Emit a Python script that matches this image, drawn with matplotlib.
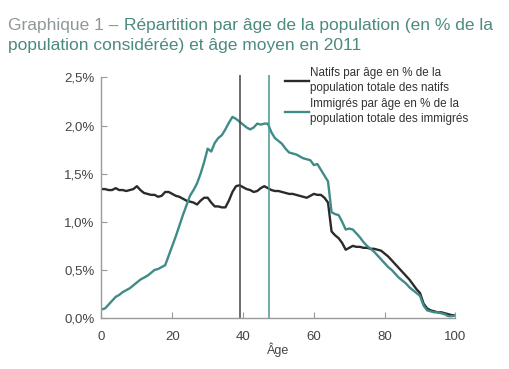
import numpy as np
import matplotlib.pyplot as plt
from matplotlib.ticker import FuncFormatter

# Ages 0..100
ages = np.arange(0, 101)

# % of native population by age
natifs = [1.34, 1.34, 1.33, 1.33, 1.35, 1.33, 1.33, 1.32, 1.33, 1.34,
          1.37, 1.33, 1.30, 1.29, 1.28, 1.28, 1.26, 1.27, 1.31, 1.31,
          1.29, 1.27, 1.26, 1.24, 1.22, 1.21, 1.20, 1.18, 1.22, 1.25,
          1.25, 1.20, 1.16, 1.16, 1.15, 1.15, 1.22, 1.31, 1.37, 1.38,
          1.36, 1.34, 1.33, 1.31, 1.32, 1.35, 1.37, 1.35, 1.33, 1.32,
          1.32, 1.31, 1.30, 1.29, 1.29, 1.28, 1.27, 1.26, 1.25, 1.27,
          1.29, 1.28, 1.28, 1.25, 1.20, 0.90, 0.86, 0.83, 0.78, 0.71,
          0.73, 0.75, 0.74, 0.74, 0.73, 0.73, 0.72, 0.72, 0.71, 0.70,
          0.67, 0.64, 0.60, 0.56, 0.52, 0.48, 0.44, 0.40, 0.35, 0.30,
          0.26, 0.15, 0.10, 0.08, 0.07, 0.06, 0.06, 0.05, 0.04, 0.03,
          0.03]

# % of immigrant population by age
immigres = [0.09, 0.10, 0.14, 0.18, 0.22, 0.24, 0.27, 0.29, 0.31, 0.34,
            0.37, 0.40, 0.42, 0.44, 0.47, 0.50, 0.51, 0.53, 0.55, 0.65,
            0.75, 0.85, 0.96, 1.07, 1.17, 1.27, 1.33, 1.40, 1.50, 1.62,
            1.76, 1.73, 1.82, 1.87, 1.90, 1.96, 2.03, 2.09, 2.07, 2.04,
            2.01, 1.98, 1.96, 1.98, 2.02, 2.01, 2.02, 2.02, 1.93, 1.87,
            1.84, 1.81, 1.76, 1.72, 1.71, 1.70, 1.68, 1.66, 1.65, 1.64,
            1.59, 1.60, 1.54, 1.48, 1.42, 1.10, 1.08, 1.07, 1.00, 0.92,
            0.93, 0.92, 0.88, 0.84, 0.79, 0.75, 0.72, 0.69, 0.65, 0.61,
            0.57, 0.53, 0.50, 0.46, 0.42, 0.39, 0.36, 0.32, 0.29, 0.26,
            0.23, 0.13, 0.08, 0.07, 0.06, 0.06, 0.05, 0.04, 0.02, 0.02,
            0.03]

# mean ages
age_moyen_natifs = 39.2
age_moyen_immigres = 47.2

label_natifs = "Natifs par âge en % de la\npopulation totale des natifs"
label_immigres = "Immigrés par âge en % de la\npopulation totale des immigrés"

BLACK = "#2b2b2b"
TEAL = "#3f8b87"
GRAY = "#9a9a9a"
TXT = "#444444"

plt.rcParams['font.family'] = ['Liberation Sans', 'DejaVu Sans']

fig = plt.figure(figsize=(5.1, 3.69), dpi=100)
ax = fig.add_axes([0.199, 0.138, 0.694, 0.66])

ax.plot(ages, natifs, color=BLACK, linewidth=1.7, label=label_natifs)
ax.plot(ages, immigres, color=TEAL, linewidth=1.7, label=label_immigres)
ax.axvline(age_moyen_natifs, color="#444444", linewidth=1.1)
ax.axvline(age_moyen_immigres, color="#4a9692", linewidth=1.1)

ax.set_xlim(0, 100)
ax.set_ylim(0, 2.53)
ax.set_xticks([0, 20, 40, 60, 80, 100])
ax.set_yticks([0, 0.5, 1.0, 1.5, 2.0, 2.5])
ax.yaxis.set_major_formatter(FuncFormatter(lambda v, p: f"{v:.1f}%".replace('.', ',')))

for s in ['top', 'right']:
    ax.spines[s].set_visible(False)
for s in ['left', 'bottom']:
    ax.spines[s].set_color(GRAY)
    ax.spines[s].set_linewidth(1.0)
ax.spines['left'].set_bounds(0, 2.5)
ax.tick_params(direction='in', length=4, color=GRAY, labelsize=9.5, labelcolor=TXT)
ax.tick_params(axis='y', pad=5)
ax.tick_params(axis='x', pad=9)
ax.set_xlabel("Âge", fontsize=9, color=TXT, labelpad=0)

leg = ax.legend(loc='upper left', bbox_to_anchor=(0.518, 1.03), frameon=False,
                fontsize=8.4, handlelength=2.1, handletextpad=0.05,
                labelspacing=0.3, borderpad=0, borderaxespad=0,
                labelcolor="#333333")
for t in leg.get_texts():
    t.set_linespacing(1.35)

# title in two colours
t1 = fig.text(0.016, 0.919, "Graphique 1 – ", fontsize=12.5, color="#8e9898")
fig.canvas.draw()
bb = t1.get_window_extent()
x2 = bb.x1 / fig.bbox.width
fig.text(x2, 0.919, "Répartition par âge de la population (en % de la",
         fontsize=12.5, color="#4c8a80")
fig.text(0.016, 0.864, "population considérée) et âge moyen en 2011",
         fontsize=12.5, color="#4c8a80")

fig.savefig("out.png", dpi=100, facecolor="white")
